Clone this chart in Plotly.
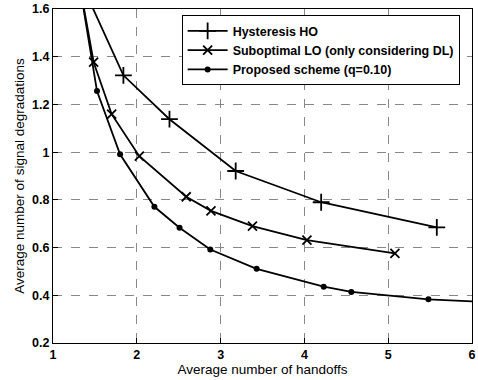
import plotly.graph_objects as go

# Data
hyst_x = [1.35, 1.84, 2.39, 3.18, 4.20, 5.58]
hyst_y = [1.70, 1.322, 1.138, 0.921, 0.790, 0.685]

subopt_x = [1.33, 1.485, 1.70, 2.03, 2.59, 2.885, 3.38, 4.03, 5.08]
subopt_y = [1.68, 1.377, 1.159, 0.983, 0.813, 0.754, 0.690, 0.631, 0.576]

prop_x = [1.33, 1.525, 1.80, 2.21, 2.51, 2.877, 3.43, 4.23, 4.56, 5.48, 6.3]
prop_y = [1.675, 1.256, 0.991, 0.771, 0.683, 0.592, 0.511, 0.436, 0.414, 0.383, 0.370]

x_ticks = [1, 2, 3, 4, 5, 6]
y_ticks = [0.2, 0.4, 0.6, 0.8, 1.0, 1.2, 1.4, 1.6]
y_ticktext = ["0.2", "0.4", "0.6", "0.8", "1", "1.2", "1.4", "1.6"]

names = ["Hysteresis HO", "Suboptimal LO (only considering DL)", "Proposed scheme (q=0.10)"]

fig = go.Figure()
fig.add_trace(go.Scatter(x=hyst_x, y=hyst_y, name=names[0], mode="lines+markers",
                         line=dict(color="black", width=1.8),
                         marker=dict(symbol="cross-thin-open", size=12,
                                     line=dict(color="black", width=1.8))))
fig.add_trace(go.Scatter(x=subopt_x, y=subopt_y, name=names[1], mode="lines+markers",
                         line=dict(color="black", width=1.8),
                         marker=dict(symbol="x-thin-open", size=9,
                                     line=dict(color="black", width=1.8))))
fig.add_trace(go.Scatter(x=prop_x, y=prop_y, name=names[2], mode="lines+markers",
                         line=dict(color="black", width=1.8),
                         marker=dict(symbol="circle", size=6, color="black")))

axis_common = dict(
    showline=True, linecolor="black", linewidth=1, mirror=True,
    ticks="inside", ticklen=5, tickcolor="black",
    showgrid=True, gridcolor="#888", gridwidth=0.8, griddash="dash",
    zeroline=False, automargin=False,
    tickfont=dict(family="Liberation Sans", size=12.5, color="black", weight="bold"),
)

fig.update_xaxes(range=[1, 6], tickvals=x_ticks,
                 title=dict(text="Average number of handoffs", standoff=2,
                            font=dict(family="Liberation Sans", size=13.5, color="black")),
                 **axis_common)
fig.update_yaxes(range=[0.2, 1.6], tickvals=y_ticks, ticktext=y_ticktext,
                 title=dict(text="Average number of signal degradations", standoff=4,
                            font=dict(family="Liberation Sans", size=13.5, color="black")),
                 **axis_common)

fig.update_layout(
    width=478, height=380,
    margin=dict(l=53, r=6, t=9, b=37),
    paper_bgcolor="white", plot_bgcolor="white",
    showlegend=True,
    legend=dict(x=0.307, y=0.981, xanchor="left", yanchor="top",
                bgcolor="white", bordercolor="black", borderwidth=1,
                font=dict(family="Liberation Sans", size=12.5, color="black", weight="bold"),
                tracegroupgap=0, itemwidth=40),
)

fig.write_html("out.html")
